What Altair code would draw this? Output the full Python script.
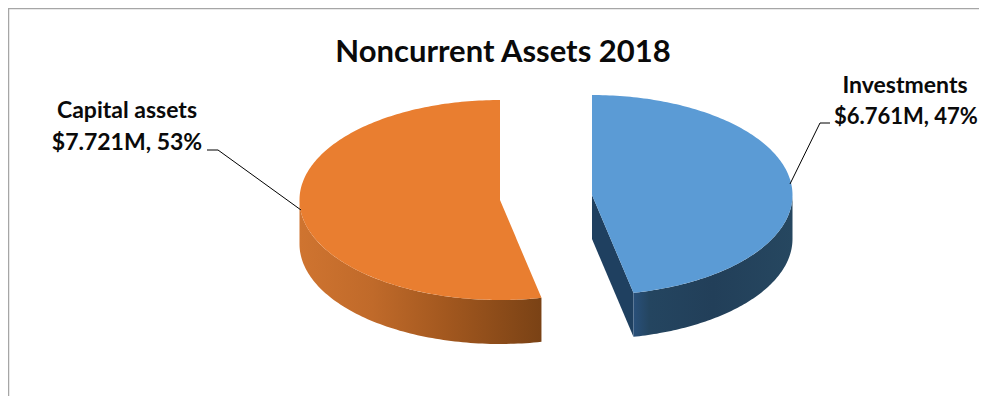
import math
import altair as alt
import pandas as pd

# ---- values ----
categories = ["Investments", "Capital assets"]
values_musd = [6.761, 7.721]
title_text = "Noncurrent Assets 2018"
label_lines = [["Investments", "$6.761M, 47%"], ["Capital assets", "$7.721M, 53%"]]

# The page adds 8px on each side, so the drawing stops 8px before the window edge.
W, H = 971, 388
X_DOMAIN = [8, 979]
Y_DOMAIN = [8, 396]
FONT = "Lato"

share = values_musd[0] / sum(values_musd)
cut = 2 * math.pi * share  # clockwise from 12 o'clock, where the two slices meet

RX, RY, DEPTH = 200.5, 100, 44
C_BLUE = (592, 195)
C_ORANGE = (500, 200)


def ell(c, t):
    return c[0] + RX * math.sin(t), c[1] - RY * math.cos(t)


def half(c, x):
    u = min(1.0, abs(x - c[0]) / RX)
    return RY * math.sqrt(max(0.0, 1 - u * u))


def sweep(t0, t1, n=90):
    return [t0 + (t1 - t0) * i / n for i in range(n + 1)]


def frame(rows):
    return pd.DataFrame([{"x": r[0], "y": r[1], "y2": r[2]} for r in rows])


def top_blue():
    c = C_BLUE
    xe, ye = ell(c, cut)
    rows = []
    for t in sweep(0, math.pi / 2):
        x = c[0] + RX * math.sin(t)
        up = c[1] - half(c, x)
        if x < xe:
            lo = c[1] + (ye - c[1]) * (x - c[0]) / (xe - c[0])
        else:
            lo = c[1] + half(c, x)
        rows.append((x, up, lo))
    rows.append((xe, c[1] - half(c, xe), ye))
    rows.sort(key=lambda r: r[0])
    return frame(rows)


def top_orange():
    c = C_ORANGE
    xe, ye = ell(c, cut)
    rows = []
    for t in sweep(1.5 * math.pi, 2 * math.pi):
        x = c[0] + RX * math.sin(t)
        rows.append((x, c[1] - half(c, x), c[1] + half(c, x)))
    for i in range(31):
        x = c[0] + (xe - c[0]) * i / 30
        up = c[1] + (ye - c[1]) * (x - c[0]) / (xe - c[0])
        rows.append((x, up, c[1] + half(c, x)))
    return frame(rows)


def outer_wall(c, t0, t1):
    rows = []
    for t in sweep(t0, t1):
        x, y = ell(c, t)
        rows.append((x, y, y + DEPTH))
    rows.sort(key=lambda r: r[0])
    return frame(rows)


def cut_wall():
    c = C_BLUE
    xe, ye = ell(c, cut)
    rows = []
    for i in range(2):
        x = c[0] + (xe - c[0]) * i
        y = c[1] + (ye - c[1]) * i
        rows.append((x, y, y + DEPTH))
    return frame(rows)


xs = alt.Scale(domain=X_DOMAIN, range=[0, W])
ys = alt.Scale(domain=Y_DOMAIN, range=[0, H])


def area(df, paint):
    return (
        alt.Chart(df)
        .mark_area(orient="vertical", color=paint)
        .encode(
            x=alt.X("x:Q", scale=xs, axis=None),
            y=alt.Y("y:Q", scale=ys, axis=None),
            y2="y2:Q",
        )
    )


def grad(stops):
    return alt.Gradient(
        gradient="linear",
        x1=0, x2=1, y1=0, y2=0,
        stops=[alt.GradientStop(offset=o, color=k) for o, k in stops],
    )


def leader(points):
    df = pd.DataFrame([{"i": i, "x": p[0], "y": p[1]} for i, p in enumerate(points)])
    return (
        alt.Chart(df)
        .mark_line(color="#000000", strokeWidth=1)
        .encode(
            x=alt.X("x:Q", scale=xs, axis=None),
            y=alt.Y("y:Q", scale=ys, axis=None),
            order=alt.Order("i:Q"),
        )
    )


def text(s, x, y, size, align="center"):
    df = pd.DataFrame([{"s": s, "x": x, "y": y}])
    return (
        alt.Chart(df)
        .mark_text(
            font=FONT, fontWeight="bold", fontSize=size, color="#0a0a0a",
            align=align, baseline="alphabetic",
        )
        .encode(
            x=alt.X("x:Q", scale=xs, axis=None),
            y=alt.Y("y:Q", scale=ys, axis=None),
            text="s:N",
        )
    )


one = pd.DataFrame({"a": [0]})
border_top = alt.Chart(one).mark_rule(color="#a6a6a6", strokeWidth=1.5).encode(
    x=alt.value(0), x2=alt.value(W), y=alt.value(0.5)
)
border_left = alt.Chart(one).mark_rule(color="#a6a6a6", strokeWidth=1.5).encode(
    x=alt.value(0.5), y=alt.value(0), y2=alt.value(H)
)

orange_wall = grad([(0, "#cf7430"), (0.3, "#c06a2a"), (0.6, "#a3581f"), (1, "#7a4215")])
blue_wall = grad([(0, "#29507a"), (0.1, "#244560"), (0.5, "#223f59"), (1, "#264760")])

chart = (
    alt.layer(
        border_top,
        border_left,
        area(outer_wall(C_ORANGE, cut, 1.5 * math.pi), orange_wall),
        area(top_orange(), "#e97e30"),
        area(cut_wall(), "#1f4060"),
        area(outer_wall(C_BLUE, math.pi / 2, cut), blue_wall),
        area(top_blue(), "#5b9bd5"),
        leader([(207, 150), (218, 150), (301, 210)]),
        leader([(830, 123), (820, 123), (790, 184)]),
        text(title_text, 503, 62, 31),
        text(label_lines[1][0], 127, 118, 23),
        text(label_lines[1][1], 127, 150, 23),
        text(label_lines[0][0], 905, 93, 23),
        text(label_lines[0][1], 834, 124, 22, align="left"),
    )
    .properties(
        width=W, height=H, padding=0, background="white",
        autosize=alt.AutoSizeParams(type="none"),
    )
    .configure_view(stroke=None)
)

chart.save("out.html", embed_options={"renderer": "svg", "actions": False})
